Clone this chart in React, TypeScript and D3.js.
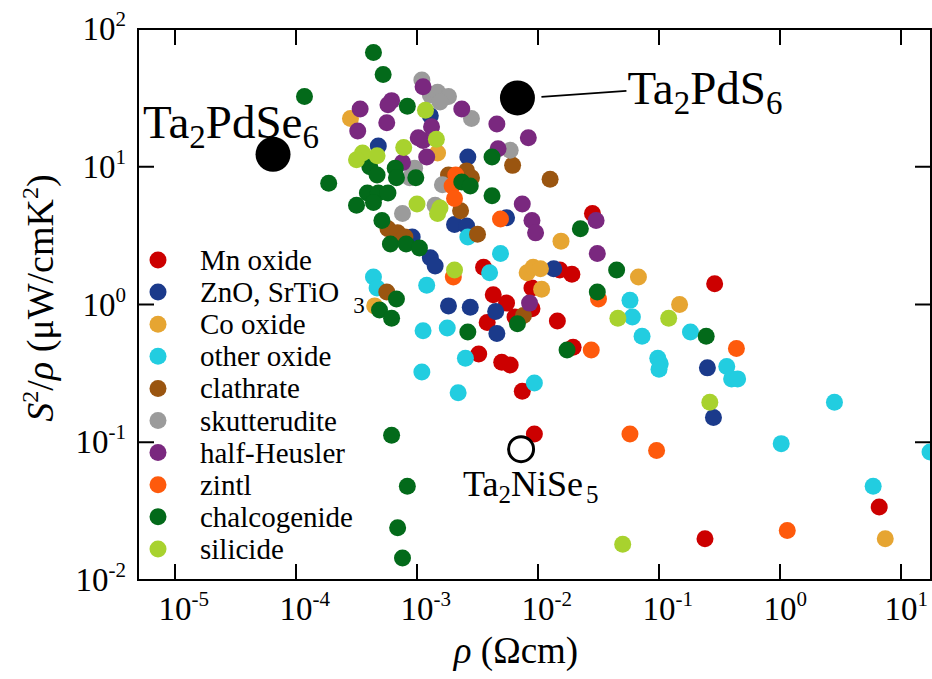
import React, { useRef, useEffect } from 'react';
import * as d3 from 'd3';

// every point is [log10 rho (Ohm cm), log10 S^2/rho (uW/cmK^2)]
const mnOxide = [
  [-1.55, 0.66], [-2.45, 0.27], [-1.82, 0.25], [-1.72, 0.22], [-2.05, 0.12], [-2.37, 0.07],
  [-2.26, 0.01], [-2.05, -0.03], [-2.19, -0.09], [-2.42, -0.13], [-1.84, -0.12], [-1.71, -0.31],
  [-2.49, -0.36], [-2.30, -0.42], [-2.23, -0.44], [-2.13, -0.63], [-2.03, -0.94], [-0.54, 0.15],
  [0.82, -1.47], [-0.62, -1.70],
];
const znoSrtio3 = [
  [-3.32, 1.15], [-2.89, 1.37], [-2.58, 1.07], [-2.26, 0.63], [-2.69, 0.58], [-2.59, 0.57],
  [-3.04, 0.49], [-2.89, 0.34], [-2.85, 0.28], [-1.87, 0.26], [-2.35, -0.05], [-2.34, -0.21],
  [-2.74, -0.01], [-2.56, -0.02], [-0.60, -0.46], [-0.55, -0.82],
];
const coOxide = [
  [-3.55, 1.35], [-2.83, 1.10], [-1.81, 0.46], [-1.17, 0.20], [-2.09, 0.23], [-2.04, 0.27],
  [-1.98, 0.26], [-1.97, 0.11], [-3.35, -0.01], [-0.83, 0.0], [0.87, -1.70],
];
const otherOxide = [
  [-3.36, 0.20], [-3.33, 0.12], [-2.92, 0.14], [-2.58, 0.49], [-2.31, 0.37], [-2.40, 0.23],
  [-2.95, -0.19], [-2.75, -0.17], [-2.60, -0.39], [-2.96, -0.49], [-2.66, -0.64], [-2.03, -0.57],
  [-1.24, 0.03], [-1.22, -0.09], [-1.14, -0.23], [-0.74, -0.20], [-1.01, -0.39], [-0.99, -0.43],
  [-1.00, -0.47], [-0.44, -0.45], [-0.40, -0.54], [-0.35, -0.54], [0.45, -0.71], [0.01, -1.01],
  [0.77, -1.32], [1.24, -1.07],
];
const clathrate = [
  [-3.24, 0.55], [-3.16, 0.52], [-3.10, 0.49], [-3.25, 0.09], [-2.74, 0.94], [-2.59, 0.97],
  [-2.55, 0.92], [-2.64, 0.68], [-2.50, 0.51], [-2.21, 1.01], [-1.90, 0.91], [-2.12, -0.08],
];
const skutterudite = [
  [-2.96, 1.63], [-2.89, 1.52], [-2.83, 1.54], [-2.74, 1.51], [-2.81, 1.47], [-2.55, 1.35],
  [-3.02, 0.99], [-3.06, 0.92], [-2.79, 0.87], [-2.85, 0.72], [-3.12, 0.66], [-2.23, 1.12],
];
const halfHeusler = [
  [-2.95, 1.58], [-3.47, 1.42], [-3.21, 1.48], [-3.24, 1.45], [-3.25, 1.32], [-3.49, 1.26],
  [-2.63, 1.42], [-2.34, 1.31], [-2.88, 1.29], [-2.99, 1.21], [-2.95, 1.19], [-2.92, 1.07],
  [-3.12, 1.03], [-2.08, 1.21], [-2.33, 1.13], [-2.13, 0.73], [-2.05, 0.61], [-2.02, 0.52],
  [-2.07, 0.01], [-1.51, 0.37], [-1.52, 0.61],
];
const zintl = [
  [-2.68, 0.94], [-2.71, 0.86], [-2.69, 0.77], [-2.31, 0.62], [-2.70, 0.20], [-1.50, 0.04],
  [-1.56, -0.33], [-1.24, -0.94], [-1.02, -1.06], [-0.36, -0.32], [0.06, -1.64],
];
const chalcogenide = [
  [-3.36, 1.83], [-3.28, 1.67], [-3.93, 1.51], [-3.08, 1.44], [-3.39, 1.00], [-3.33, 0.94],
  [-3.18, 0.99], [-3.17, 0.92], [-3.01, 0.92], [-3.73, 0.88], [-3.41, 0.81], [-3.32, 0.81],
  [-3.24, 0.81], [-3.36, 0.74], [-3.50, 0.72], [-3.29, 0.61], [-3.22, 0.44], [-3.09, 0.44],
  [-2.98, 0.41], [-2.63, 0.89], [-2.56, 0.86], [-2.38, 0.79], [-2.38, 1.07], [-3.17, 0.04],
  [-3.31, -0.04], [-3.21, -0.10], [-2.58, -0.20], [-2.17, -0.14], [-1.76, -0.33], [-1.51, 0.09],
  [-1.65, 0.55], [-1.35, 0.25], [-0.61, -0.23], [-3.21, -0.95], [-3.08, -1.32], [-3.16, -1.62],
  [-3.12, -1.84],
];
const silicide = [
  [-2.93, 1.41], [-2.84, 1.20], [-3.11, 1.14], [-3.45, 1.10], [-3.33, 1.08], [-3.50, 1.05],
  [-3.00, 0.73], [-2.81, 0.70], [-2.83, 0.66], [-2.69, 0.25], [-1.34, -0.10], [-0.92, -0.10],
  [-0.58, -0.71], [-1.30, -1.74],
];

const groups = [
  { name: 'Mn oxide', color: '#cc0000', pts: mnOxide },
  { name: 'ZnO, SrTiO', sub: '3', color: '#1b3a8b', pts: znoSrtio3 },
  { name: 'Co oxide', color: '#e6a532', pts: coOxide },
  { name: 'other oxide', color: '#22cde0', pts: otherOxide },
  { name: 'clathrate', color: '#9a5510', pts: clathrate },
  { name: 'skutterudite', color: '#9b9b9b', pts: skutterudite },
  { name: 'half-Heusler', color: '#7a287f', pts: halfHeusler },
  { name: 'zintl', color: '#fe5a0c', pts: zintl },
  { name: 'chalcogenide', color: '#036a1a', pts: chalcogenide },
  { name: 'silicide', color: '#a8d22e', pts: silicide },
];

// highlighted compounds
const taPdSe = [-4.19, 1.09];
const taPdS = [-2.17, 1.50];
const taNiSe = [-2.14, -1.05];

const xTickExp = [-5, -4, -3, -2, -1, 0, 1];
const yTickExp = [-2, -1, 0, 1, 2];

const FONT = '"Liberation Serif", "Times New Roman", serif';

// writes a text made of parts, some of them sub/superscripted
function richText(g, x, y, size, parts, anchor = 'start') {
  const t = g.append('text')
    .attr('x', x).attr('y', y)
    .attr('font-family', FONT)
    .attr('font-size', size)
    .attr('text-anchor', anchor)
    .attr('fill', '#000');
  let shift = 0;
  parts.forEach(p => {
    const ts = t.append('tspan').text(p.t);
    let target = 0;
    if (p.sub) target = p.off ?? size * 0.22;
    if (p.sup) target = -(p.off ?? size * 0.38);
    ts.attr('dy', target - shift);
    if (p.dx) ts.attr('dx', p.dx);
    shift = target;
    if (p.sub || p.sup) ts.attr('font-size', p.size ?? size * 0.68);
    if (p.it) ts.attr('font-style', 'italic');
  });
  return t;
}

function Chart() {
  const ref = useRef(null);

  useEffect(() => {
    const svg = d3.select(ref.current);
    svg.selectAll('*').remove();

    const left = 138, right = 931, top = 29, bottom = 580;
    const x = d3.scaleLog().domain([10 ** -5.306, 10 ** 1.248]).range([left, right]);
    const y = d3.scaleLog().domain([0.01, 100]).range([bottom, top]);

    // points, drawn in legend order
    const pg = svg.append('g');
    groups.forEach(gr => {
      pg.selectAll(null)
        .data(gr.pts)
        .enter().append('circle')
        .attr('cx', d => x(10 ** d[0]))
        .attr('cy', d => y(10 ** d[1]))
        .attr('r', 8.5)
        .attr('fill', gr.color);
    });

    // frame
    svg.append('rect')
      .attr('x', left).attr('y', top)
      .attr('width', right - left).attr('height', bottom - top)
      .attr('fill', 'none').attr('stroke', '#000').attr('stroke-width', 2);

    const tickLen = 16;
    xTickExp.forEach(e => {
      const px = x(10 ** e);
      svg.append('line').attr('x1', px).attr('x2', px).attr('y1', bottom).attr('y2', bottom - tickLen)
        .attr('stroke', '#000').attr('stroke-width', 2);
      svg.append('line').attr('x1', px).attr('x2', px).attr('y1', top).attr('y2', top + tickLen)
        .attr('stroke', '#000').attr('stroke-width', 2);
      richText(svg, px - 16.5, bottom + 40, 33, [{ t: '10' }, { t: String(e), sup: true, size: 21, off: 14 }]);
    });
    yTickExp.forEach(e => {
      const py = y(10 ** e);
      svg.append('line').attr('x1', left).attr('x2', left + tickLen).attr('y1', py).attr('y2', py)
        .attr('stroke', '#000').attr('stroke-width', 2);
      svg.append('line').attr('x1', right).attr('x2', right - tickLen).attr('y1', py).attr('y2', py)
        .attr('stroke', '#000').attr('stroke-width', 2);
      richText(svg, 126, py + 11, 33, [{ t: '10' }, { t: String(e), sup: true, size: 21, off: 14 }], 'end');
    });

    // axis titles
    richText(svg, 516, 663, 37, [{ t: 'ρ', it: true }, { t: ' (Ωcm)' }], 'middle');
    const yt = svg.append('g').attr('transform', 'translate(53,298) rotate(-90)');
    richText(yt, 0, 0, 38, [
      { t: 'S', it: true }, { t: '2', sup: true, size: 24, off: 15 }, { t: '/' }, { t: 'ρ', it: true },
      { t: ' (μW/cmK' }, { t: '2', sup: true, size: 24, off: 15 }, { t: ')' },
    ], 'middle');

    // legend
    groups.forEach((gr, i) => {
      const ly = 260 + i * 32.1;
      svg.append('circle').attr('cx', 158).attr('cy', ly).attr('r', 8.5).attr('fill', gr.color);
      const parts = [{ t: gr.name }];
      if (gr.sub) parts.push({ t: gr.sub, sub: true, size: 23, off: 11, dx: 14 });
      richText(svg, 200, ly + 10, 29, parts);
    });

    // highlighted compounds
    const p1 = [x(10 ** taPdSe[0]), y(10 ** taPdSe[1])];
    svg.append('circle').attr('cx', p1[0]).attr('cy', p1[1]).attr('r', 17.5).attr('fill', '#000');
    richText(svg, p1[0] - 130, p1[1] - 16, 47, [
      { t: 'Ta' }, { t: '2', sub: true, size: 33, off: 10 }, { t: 'PdSe' }, { t: '6', sub: true, size: 33, off: 10 },
    ]);

    const p2 = [x(10 ** taPdS[0]), y(10 ** taPdS[1])];
    svg.append('circle').attr('cx', p2[0]).attr('cy', p2[1]).attr('r', 17.5).attr('fill', '#000');
    svg.append('line').attr('x1', p2[0] + 24).attr('y1', p2[1] - 1).attr('x2', p2[0] + 109).attr('y2', p2[1] - 7)
      .attr('stroke', '#000').attr('stroke-width', 2);
    richText(svg, p2[0] + 110, p2[1] + 6, 47, [
      { t: 'Ta' }, { t: '2', sub: true, size: 33, off: 10 }, { t: 'PdS' }, { t: '6', sub: true, size: 33, off: 10 },
    ]);

    const p3 = [x(10 ** taNiSe[0]), y(10 ** taNiSe[1])];
    svg.append('circle').attr('cx', p3[0]).attr('cy', p3[1]).attr('r', 12.5)
      .attr('fill', '#fff').attr('stroke', '#000').attr('stroke-width', 3);
    richText(svg, p3[0] - 58, p3[1] + 47, 36, [
      { t: 'Ta' }, { t: '2', sub: true, size: 25, off: 7 }, { t: 'NiSe' }, { t: '5', sub: true, size: 25, off: 7, dx: 3 },
    ]);
  }, []);

  return <svg ref={ref} width={932} height={679} style={{ position: 'absolute', left: 0, top: 0, background: '#fff' }} />;
}

export default function App() {
  return <Chart />;
}
